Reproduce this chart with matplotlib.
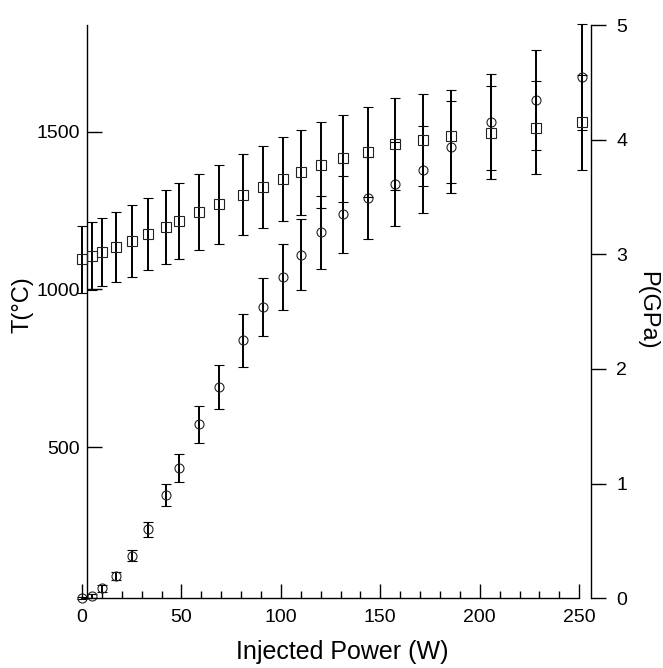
import matplotlib
matplotlib.use("Agg")
import matplotlib.pyplot as plt
from matplotlib.ticker import MultipleLocator, FixedLocator

plt.rcParams['font.family'] = ['Liberation Sans', 'DejaVu Sans']

# injected power (W), shared by both series
power = [0, 4.8, 10.2, 17, 25, 33, 42, 49, 59, 69, 81, 91, 101, 110, 120,
         131, 144, 157.5, 171.5, 185.5, 205.5, 228.5, 251.5]

# temperature (circles, left axis)
temp = [23, 29, 53, 93, 157, 240, 349, 435, 573, 692, 839, 945, 1040, 1110,
        1181, 1238, 1289, 1333, 1380, 1451, 1530, 1600, 1673]
temp_err = [3, 5, 10, 13, 16, 23, 35, 44, 58, 70, 84, 92, 104, 112, 116,
            123, 130, 133, 137, 146, 153, 159, 167]

# pressure (squares, right axis)
pres = [2.955, 2.985, 3.02, 3.065, 3.118, 3.173, 3.24, 3.29, 3.368, 3.435,
        3.52, 3.587, 3.656, 3.717, 3.78, 3.836, 3.894, 3.961, 4.0, 4.03,
        4.06, 4.106, 4.15]
pres_err = [0.29, 0.294, 0.30, 0.308, 0.312, 0.314, 0.321, 0.329, 0.333,
            0.343, 0.351, 0.359, 0.364, 0.37, 0.375, 0.381, 0.392, 0.40,
            0.40, 0.404, 0.407, 0.407, 0.413]

x_ticks = [0, 50, 100, 150, 200, 250]
t_ticks = [500, 1000, 1500]
p_ticks = [0, 1, 2, 3, 4, 5]

W, H = 663, 668
fig = plt.figure(figsize=(W / 100, H / 100), dpi=100)
ax = fig.add_axes([76 / W, (H - 598.3) / H, (590.7 - 76) / W, 573.3 / H])
ax2 = ax.twinx()

ebar = dict(ecolor='black', elinewidth=1.4, capsize=3.6, capthick=1.4,
            mfc='none', mec='#222222', mew=0.8, clip_on=False)
ax.errorbar(power, temp, yerr=temp_err, fmt='o', ms=6.5, **ebar)
ax2.errorbar(power, pres, yerr=pres_err, fmt='s', ms=6.6, **ebar)

ax.set_xlim(-3.02, 255.8)
ax.set_ylim(21.5, 1838)
ax2.set_ylim(0, 5)

# spines: left axis sits a bit right of x=0, bottom axis stops at 250
for s in ['top', 'right']:
    ax.spines[s].set_visible(False)
for s in ['top', 'left', 'bottom']:
    ax2.spines[s].set_visible(False)
ax.spines['left'].set_position(('data', 2.66))
ax.spines['bottom'].set_bounds(0, 250)
for sp in [ax.spines['left'], ax.spines['bottom'], ax2.spines['right']]:
    sp.set_linewidth(1.0)

ax.xaxis.set_major_locator(FixedLocator(x_ticks))
ax.xaxis.set_minor_locator(MultipleLocator(10))
ax.yaxis.set_major_locator(FixedLocator(t_ticks))
ax2.yaxis.set_major_locator(FixedLocator(p_ticks))

ax.tick_params(axis='x', which='major', direction='in', length=10.3,
               width=1.0, labelsize=14, pad=8)
ax.tick_params(axis='x', which='minor', direction='in', length=5.3, width=1.0)
ax.tick_params(axis='y', direction='in', length=10.6, width=1.0,
               labelsize=14, pad=5.5)
ax2.tick_params(axis='y', direction='out', length=11, width=1.0,
                labelsize=14, pad=7.5)

ax.set_xlabel('Injected Power (W)', fontsize=18)
ax.xaxis.set_label_coords(0.517, -0.072)
ax.set_ylabel('T(°C)', fontsize=17)
ax.yaxis.set_label_coords(-0.082, 0.513)
ax2.set_ylabel('P(GPa)', fontsize=17, rotation=-90, va='bottom')
ax2.yaxis.set_label_coords(1.089, 0.503)

fig.savefig('out.png', dpi=100)
